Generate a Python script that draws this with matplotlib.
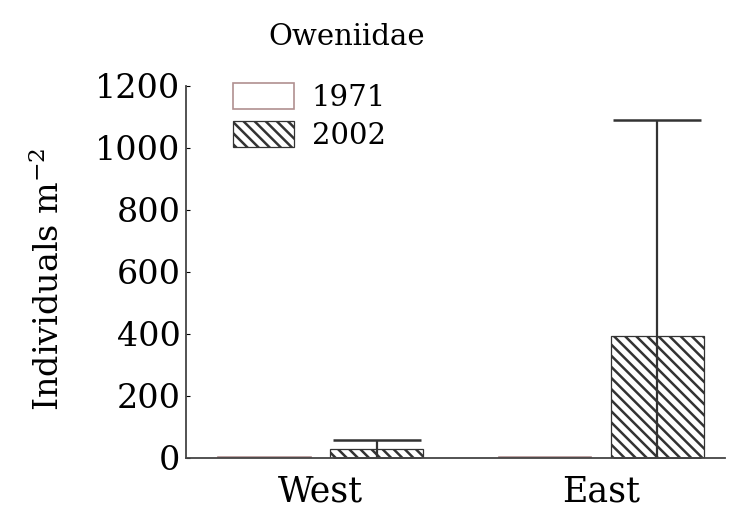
import matplotlib
matplotlib.use("Agg")
import matplotlib.pyplot as plt
import numpy as np

# data
sites = ["West", "East"]
years = ["1971", "2002"]
mean_1971 = [4, 4]
mean_2002 = [29, 395]
err_2002 = [29, 695]

plt.rcParams['font.family'] = ['DejaVu Serif']
plt.rcParams['axes.unicode_minus'] = False
plt.rcParams['hatch.linewidth'] = 1.8
plt.rcParams['hatch.color'] = '#222222'

fig = plt.figure(figsize=(7.35, 5.24), dpi=100)
ax = fig.add_axes([0.253, 0.126, 0.733, 0.71])

x = np.arange(len(sites))
w = 0.33
off = 0.2

ax.bar(x - off, mean_1971, w, color='white', edgecolor='#b09090', linewidth=1.2, label=years[0])
ax.bar(x + off, mean_2002, w, color='white', edgecolor='#333333', hatch='\\\\\\', linewidth=0.9, label=years[1])
lower = np.minimum(mean_2002, err_2002)
ax.errorbar(x + off, mean_2002, yerr=[lower, err_2002], fmt='none',
            ecolor='#333333', elinewidth=1.6, capsize=32, capthick=1.8)

ax.set_ylim(0, 1200)
ax.set_xlim(-0.48, 1.44)
ax.set_yticks(np.arange(0, 1201, 200))
ax.set_xticks(x)
ax.set_xticklabels(sites)
ax.tick_params(axis='y', direction='in', length=3, labelsize=24, pad=4)
ax.tick_params(axis='x', length=0, labelsize=25, pad=12)
for s in ['top', 'right']:
    ax.spines[s].set_visible(False)
for s in ['left', 'bottom']:
    ax.spines[s].set_color('#444444')
    ax.spines[s].set_linewidth(1.3)

ax.set_ylabel("Individuals m$^{\\mathregular{-2}}$", fontsize=24)
ax.yaxis.set_label_coords(-0.222, 0.48)
fig.text(0.472, 0.93, "Oweniidae", fontsize=21, ha='center', va='center')

leg = ax.legend(loc='upper left', bbox_to_anchor=(0.066, 1.04), frameon=False,
                fontsize=21, handlelength=2.1, handleheight=1.0,
                labelspacing=0.3, handletextpad=0.6, borderaxespad=0)

fig.savefig("out.png", dpi=100)
